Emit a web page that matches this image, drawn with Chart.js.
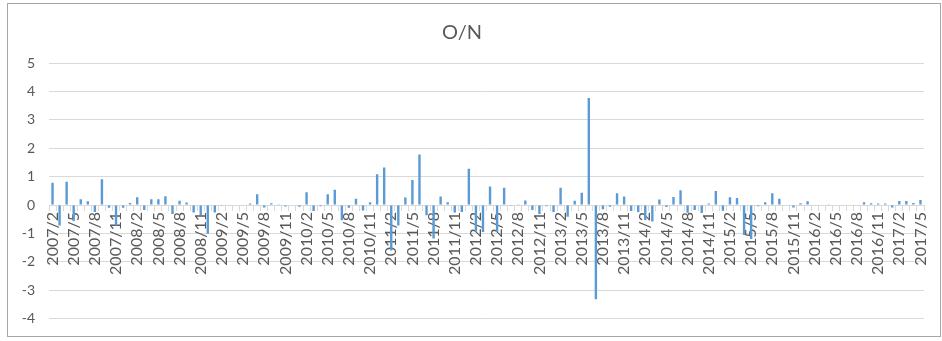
<!DOCTYPE html>
<html>
<head>
<meta charset="utf-8">
<script src="https://cdn.jsdelivr.net/npm/chart.js@4.4.1/dist/chart.umd.min.js"></script>
<style>
  html, body { margin: 0; padding: 0; background: #fff; }
  #wrap { position: relative; width: 942px; height: 341px; }
  #frame { position: absolute; left: 7px; top: 3px; width: 932px; height: 332px; border: 1px solid #a6a6a6; pointer-events: none; }
</style>
</head>
<body>
<div id="wrap">
  <canvas id="canvas" width="942" height="341"></canvas>
  <div id="frame"></div>
</div>
<script>
// Premier mois de la série : 2007/2, dernier : 2017/5
let startYear = 2007;
let startMonth = 2;
let monthCount = 124;

// Valeurs O/N, année par année
let on2007 = [0.78, -0.72, 0.82, -0.56, 0.2, 0.13, -0.25, 0.91, -0.1, -0.72, -0.1];
let on2008 = [0.07, 0.27, -0.18, 0.2, 0.2, 0.31, -0.32, 0.15, 0.09, -0.26, -0.35, -1.01];
let on2009 = [-0.26, -0.03, 0, 0, 0, 0.05, 0.38, -0.09, 0.06, 0.03, -0.05, 0];
let on2010 = [-0.06, 0.45, -0.21, -0.04, 0.38, 0.54, -0.54, -0.1, 0.22, -0.19, 0.1, 1.08];
let on2011 = [1.32, -1.6, -0.72, 0.26, 0.88, 1.78, -0.36, -1.18, 0.3, 0.1, -0.26, -0.25];
let on2012 = [1.28, -0.93, -0.95, 0.65, -0.95, 0.61, -0.03, 0.01, 0.16, -0.18, -0.32, -0.04];
let on2013 = [-0.25, 0.61, -0.41, 0.15, 0.43, 3.77, -3.32, -0.15, -0.06, 0.41, 0.3, -0.21];
let on2014 = [-0.25, -0.53, -0.58, 0.19, -0.07, 0.28, 0.52, -0.27, -0.18, -0.28, 0.05, 0.49];
let on2015 = [-0.2, 0.27, 0.25, -1.06, -1.2, -0.04, 0.1, 0.41, 0.22, -0.02, -0.09, 0.06];
let on2016 = [0.13, 0, 0, 0.01, 0, 0, 0, 0, 0.1, 0.06, 0.05, 0.05];
let on2017 = [-0.09, 0.14, 0.14, 0.07, 0.18];

let onValues = [].concat(on2007, on2008, on2009, on2010, on2011, on2012,
                         on2013, on2014, on2015, on2016, on2017);

// Etiquettes des mois "aaaa/m"
let months = [];
for (let i = 0; i < monthCount; i++) {
  let m = startMonth - 1 + i;
  months.push((startYear + Math.floor(m / 12)) + "/" + (m % 12 + 1));
}

let textColor = '#595959';
let fontName = 'Lato, "Liberation Sans", sans-serif';

var ctx = document.getElementById('canvas').getContext('2d');
var chart = new Chart(ctx, {
    type: 'bar',
    data: {
        labels: months,
        datasets: [{
            label: 'O/N',
            backgroundColor: '#5b9bd5',
            borderWidth: 0,
            data: onValues,
            barPercentage: 0.34,
            categoryPercentage: 1
        }]
    },
    options: {
        responsive: false,
        animation: false,
        layout: { padding: { left: 0, right: 18, top: 0, bottom: 22 } },
        plugins: {
            legend: { display: false },
            tooltip: { enabled: false },
            title: {
                display: true,
                text: 'O/N',
                color: textColor,
                font: { family: fontName, size: 20, weight: 'normal' },
                padding: { top: 21, bottom: 18 }
            }
        },
        scales: {
            x: {
                position: { y: 0 },
                grid: { drawOnChartArea: false, drawTicks: true, tickLength: 5, color: '#d9d9d9', offset: true },
                border: { display: true, color: '#d9d9d9' },
                ticks: {
                    autoSkip: false,
                    maxRotation: 90,
                    minRotation: 90,
                    padding: 2,
                    color: textColor,
                    font: { family: fontName, size: 16 },
                    callback: function(v, i) { return i % 3 === 0 ? months[i] : ''; }
                }
            },
            y: {
                min: -4,
                max: 5,
                afterFit: function(scale) { scale.width = 49; },
                grid: { color: '#d9d9d9', drawTicks: false },
                border: { display: false },
                ticks: {
                    stepSize: 1,
                    padding: 14,
                    color: textColor,
                    font: { family: fontName, size: 14 }
                }
            }
        }
    }
});
</script>
</body>
</html>
